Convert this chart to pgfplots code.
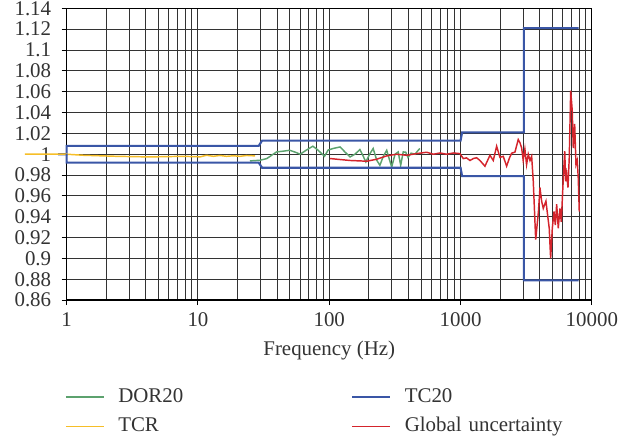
\documentclass[border=0pt]{standalone}
\usepackage{fontspec}
\setmainfont{Liberation Serif}
\usepackage{pgfplots}
\pgfplotsset{compat=1.18}
\definecolor{tcblue}{RGB}{58,86,166}
\definecolor{gured}{RGB}{212,36,44}
\definecolor{dorgreen}{RGB}{92,162,110}
\definecolor{tcryellow}{RGB}{246,190,40}
\begin{document}
\begin{tikzpicture}
\path[use as bounding box] (-31.9pt,-67pt) rectangle (275.3pt,143.6pt);
\begin{axis}[
  xmode=log, log basis x=10,
  scale only axis, width=251.3pt, height=139.6pt,
  at={(0pt,0pt)}, anchor=south west,
  xmin=1, xmax=10000, ymin=0.86, ymax=1.14,
  xtick={1,10,100,1000,10000},
  xticklabels={1,10,100,1000,10000},
  minor xtick={2,3,4,5,6,7,8,9,20,30,40,50,60,70,80,90,200,300,400,500,600,700,800,900,2000,3000,4000,5000,6000,7000,8000,9000},
  ytick={0.86,0.88,0.9,0.92,0.94,0.96,0.98,1,1.02,1.04,1.06,1.08,1.1,1.12,1.14},
  yticklabels={0.86,0.88,0.9,0.92,0.94,0.96,0.98,1,1.02,1.04,1.06,1.08,1.1,1.12,1.14},
  grid=both,
  major grid style={black!80, line width=0.45pt},
  minor grid style={black!80, line width=0.45pt},
  tick pos=left, tick align=outside,
  major tick length=2.4pt, minor tick length=0pt,
  tick style={black, line width=0.5pt},
  axis line style={black, line width=0.6pt},
  clip=false,
  ticklabel style={font=\fontsize{10}{12}\selectfont, text=black!80},
  yticklabel style={xshift=-1.5pt},
  xlabel={Frequency (Hz)},
  xlabel style={at={(axis description cs:0.5,0)}, anchor=center, yshift=-23.9pt, text=black!80},
  legend columns=2,
  legend cell align=left,
  legend image code/.code={\draw[#1, line width=0.9pt] (0pt,0pt) -- (18pt,0pt);},
  legend style={at={(axis description cs:0,0)}, anchor=north west, xshift=-0.8pt, yshift=-42pt,
    draw=none, fill=none, inner sep=0pt, outer sep=0pt, column sep=6.6pt, row sep=5pt,
    nodes={inner xsep=0pt, inner ysep=0pt, text height=7pt, text depth=2pt, text width=105pt, align=left, text=black!80}},
]
% DOR20
\addplot[draw=dorgreen, line width=0.7pt] coordinates {
(24.9,0.9936) (29.7,0.9942) (33.4,0.9958) (39.7,1.0022) (45,1.003) (50,1.0038) (55,1.002) (60,1.0) (67,1.004) (75,1.0077) (82,1.004) (92,0.998) (98,1.004) (107,1.0055) (121,1.007) (132,1.002) (144,0.9974) (157,1.0) (171,1.0045) (180,0.999) (190,0.9926) (203,1.0) (216,1.0055) (230,0.9942) (243,0.9894) (258,0.998) (274,1.0038) (287,0.995) (299,0.9878) (317,1.0) (335,1.0022) (350,0.9894) (366,1.0022) (382,1.002) (398,0.997) (420,1.001) (450,1.0) (470,1.003) (490,1.0055)
};
\addlegendentry{DOR20}
% TC20 upper
\addplot[draw=tcblue, line width=1pt] coordinates {
(0.86,1) (1,1) (1,1.008) (29,1.008) (30.8,1.013) (1000,1.013) (1028,1.021) (3040,1.021) (3040,1.121) (7940,1.121)
};
\addlegendentry{TC20}
% TCR
\addplot[draw=tcryellow, line width=0.7pt] coordinates {
(0.48,1.0) (1,1.0) (1.34,0.999) (2.4,0.998) (4.3,0.9974) (7.7,0.998) (10.4,0.9975) (11.6,0.999) (13.1,0.998) (14.7,0.9988) (16.5,0.998) (18.6,0.9985) (20.9,0.998) (23.5,0.9988) (27.2,0.9984)
};
\addlegendentry{TCR}
% Global uncertainty
\addplot[draw=gured, line width=0.7pt] coordinates {
(101,0.9959) (121,0.9949) (144,0.994) (193,0.9933) (230,0.9952) (274,0.9984) (326,1.0) (389,0.999) (463,1.0006) (552,1.0019) (620,1.0) (697,1.0012) (784,1.0) (880,1.0012) (989,1.0006) (1049,0.9958) (1110,0.9965) (1179,0.994) (1260,0.996) (1326,0.9966) (1405,0.994) (1534,0.9885) (1675,0.999) (1775,0.994) (1883,1.0077) (1995,0.997) (2114,0.998) (2244,0.9885) (2350,0.996) (2450,1.001) (2596,1.002) (2750,1.0141) (2835,1.011) (2920,1.006) (3000,0.994) (3090,1.005) (3183,0.990) (3280,1.0) (3380,0.994) (3480,0.998) (3580,0.974) (3735,0.918) (3920,0.945) (4025,0.968) (4145,0.955) (4265,0.948) (4470,0.955) (4600,0.942) (4735,0.929) (4855,0.900) (5000,0.929) (5150,0.945) (5270,0.932) (5395,0.952) (5550,0.929) (5715,0.948) (5850,0.935) (6000,0.965) (6100,0.984) (6215,1.003) (6320,0.974) (6430,0.981) (6580,0.968) (6730,0.997) (6900,1.061) (7090,1.042) (7220,1.006) (7400,1.029) (7570,0.990) (7745,0.994) (7880,0.977) (8020,0.945)
};
\addlegendentry{Global uncertainty}
% TC20 lower
\addplot[draw=tcblue, line width=1pt, forget plot] coordinates {
(1,1) (1,0.992) (29,0.992) (30.8,0.987) (1000,0.987) (1028,0.979) (3040,0.979) (3040,0.879) (7940,0.879)
};
\end{axis}
\end{tikzpicture}
\end{document}
